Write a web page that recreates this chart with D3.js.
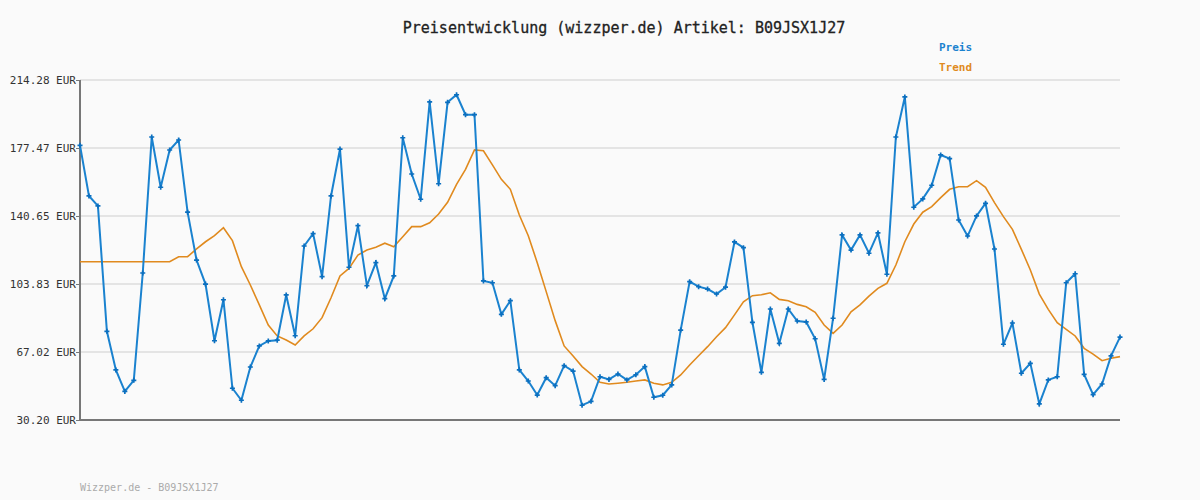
<!DOCTYPE html>
<html><head><meta charset="utf-8">
<script src="https://cdn.jsdelivr.net/npm/d3@7"></script>
<style>body{margin:0;background:#fafafa}svg{display:block}text{font-family:"DejaVu Sans Mono",monospace}</style>
</head><body><svg id="c" width="1200" height="500"></svg>
<script>
const title = "Preisentwicklung (wizzper.de) Artikel: B09JSX1J27";
const yTicks = [30.20, 67.02, 103.83, 140.65, 177.47, 214.28];
const preis = [178.9,151.5,146.1,78.2,57.3,45.7,51.7,109.8,183.4,156.2,176.4,181.8,142.7,116.8,103.8,73.1,95.3,47.4,40.9,58.9,70.3,73.0,73.4,97.9,75.8,124.4,131.1,107.8,151.5,176.9,112.9,135.4,102.9,115.4,95.9,108.2,183.0,163.4,149.7,202.4,158.1,202.2,206.3,195.5,195.5,105.5,104.5,87.4,94.8,57.3,51.3,43.7,53.1,48.8,59.6,56.7,38.2,40.3,53.6,52.2,55.1,51.9,54.7,59.1,42.5,43.6,49.2,78.9,105.1,102.4,101.1,98.4,102.1,126.6,123.5,83.1,56.0,90.3,71.7,90.3,83.8,83.3,74.2,52.2,85.3,130.4,122.2,130.4,120.5,131.5,109.1,183.4,205.1,145.4,149.9,157.3,173.7,171.7,138.5,129.8,140.7,147.5,122.8,71.2,82.7,55.5,60.9,38.9,51.9,53.6,104.5,109.4,54.9,43.9,49.7,64.9,75.1];
const trend = [115.9,115.9,115.9,115.9,115.9,115.9,115.9,115.9,115.9,115.9,115.9,118.6,118.6,122.8,126.7,130.0,134.3,127.3,113.2,103.3,92.5,81.6,75.7,73.5,70.8,75.7,79.6,85.6,96.4,108.2,112.3,119.5,122.2,123.7,125.9,124.0,129.4,134.9,134.9,137.0,141.7,148.1,157.8,165.9,176.4,176.0,168.3,160.5,155.1,141.2,130.0,115.4,99.7,84.0,70.3,64.9,59.1,55.1,50.6,49.7,50.1,50.6,51.3,51.9,50.1,49.2,50.6,54.6,60.0,65.0,69.9,75.3,80.2,87.1,94.2,97.5,98.0,99.1,95.5,94.8,92.8,91.5,88.5,81.6,77.1,81.6,88.8,92.5,97.3,101.5,104.2,114.1,126.7,136.3,142.7,145.7,150.6,155.1,156.5,156.5,159.8,156.2,147.9,140.3,133.4,122.6,111.4,98.4,90.1,82.9,79.3,75.7,69.0,65.9,62.3,63.6,64.5];

const svg = d3.select("#c");
const x = d3.scaleLinear().domain([0, preis.length-1]).range([80,1120]);
const y = d3.scaleLinear().domain([30.20,214.28]).range([420,80]);

svg.append("g").selectAll("line").data(yTicks.slice(1)).join("line")
 .attr("x1",80).attr("x2",1120).attr("y1",d=>y(d)).attr("y2",d=>y(d))
 .attr("stroke","#e4e4e4").attr("stroke-width",2);

const ax = svg.append("g").attr("transform","translate(80,0)")
 .call(d3.axisLeft(y).tickValues(yTicks).tickSize(4).tickFormat(d=>d.toFixed(2)+" EUR"));
ax.select(".domain").remove();
ax.selectAll("line").attr("stroke","#777");
ax.selectAll("text").attr("font-size",11).attr("fill","#333").attr("x",-4);
svg.append("line").attr("x1",80).attr("x2",80).attr("y1",80).attr("y2",421).attr("stroke","#777").attr("stroke-width",2);
svg.append("line").attr("x1",79).attr("x2",1120).attr("y1",420).attr("y2",420).attr("stroke","#777").attr("stroke-width",2);

const line = d3.line().x((d,i)=>x(i)).y(d=>y(d));
svg.append("path").datum(trend).attr("d",line).attr("fill","none").attr("stroke","#e08a1e").attr("stroke-width",1.6);
svg.append("path").datum(preis).attr("d",line).attr("fill","none").attr("stroke","#1a82cf").attr("stroke-width",2);
svg.append("g").selectAll("path").data(preis).join("path")
 .attr("transform",(d,i)=>`translate(${x(i)},${y(d)})`)
 .attr("d",d3.symbol(d3.symbolCross,14)).attr("fill","#0b6fbf");

svg.append("text").attr("x",624).attr("y",33).attr("text-anchor","middle").attr("font-size",15).attr("fill","#222").attr("stroke","#222").attr("stroke-width",0.3).text(title);
svg.append("text").attr("x",939).attr("y",51).attr("font-size",11).attr("font-weight","bold").attr("fill","#1a82cf").text("Preis");
svg.append("text").attr("x",939).attr("y",71).attr("font-size",11).attr("font-weight","bold").attr("fill","#e08a1e").text("Trend");
svg.append("text").attr("x",80).attr("y",491).attr("font-size",10).attr("fill","#aaa").text("Wizzper.de - B09JSX1J27");
</script></body></html>
